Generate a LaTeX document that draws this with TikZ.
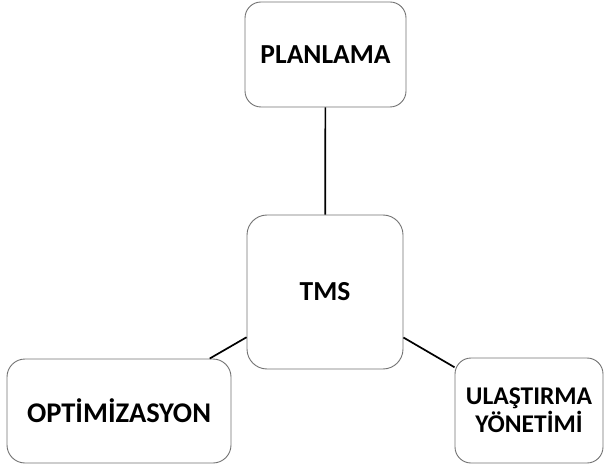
\documentclass[tikz,border=0pt]{standalone}
\usepackage{fontspec}
\setmainfont{Carlito}
\begin{document}
\begin{tikzpicture}[x=1pt,y=1pt,
  box/.style={draw={rgb,255:red,115;green,115;blue,115}, line width=0.9pt,
    rounded corners=16pt, fill=white, inner sep=0pt, align=center,
    font=\fontsize{27.5}{28}\selectfont\bfseries},
  link/.style={draw=black, line width=1.7pt}]
  \useasboundingbox (0,0) rectangle (604,466);
  % node centres, y measured from the bottom edge
  \node[box, minimum width=161pt, minimum height=105pt] (plan) at (325.5,411.5) {PLANLAMA};
  \node[box, minimum width=156pt, minimum height=154pt, rounded corners=20pt] (tms) at (325,174) {TMS};
  \node[box, minimum width=224pt, minimum height=104pt, rounded corners=18pt,
    font=\fontsize{28.5}{28}\selectfont\bfseries] (opt) at (119,55) {OPTİMİZASYON};
  \node[box, minimum width=148pt, minimum height=105pt,
    font=\fontsize{25.5}{28}\selectfont\bfseries] (ula) at (529,55.5) {ULAŞTIRMA\\YÖNETİMİ};
  % connectors between centres, clipped at the borders
  \draw[link] (plan) -- (tms);
  \draw[link] (tms) -- (opt);
  \draw[link] (tms) -- (ula);
\end{tikzpicture}
\end{document}
